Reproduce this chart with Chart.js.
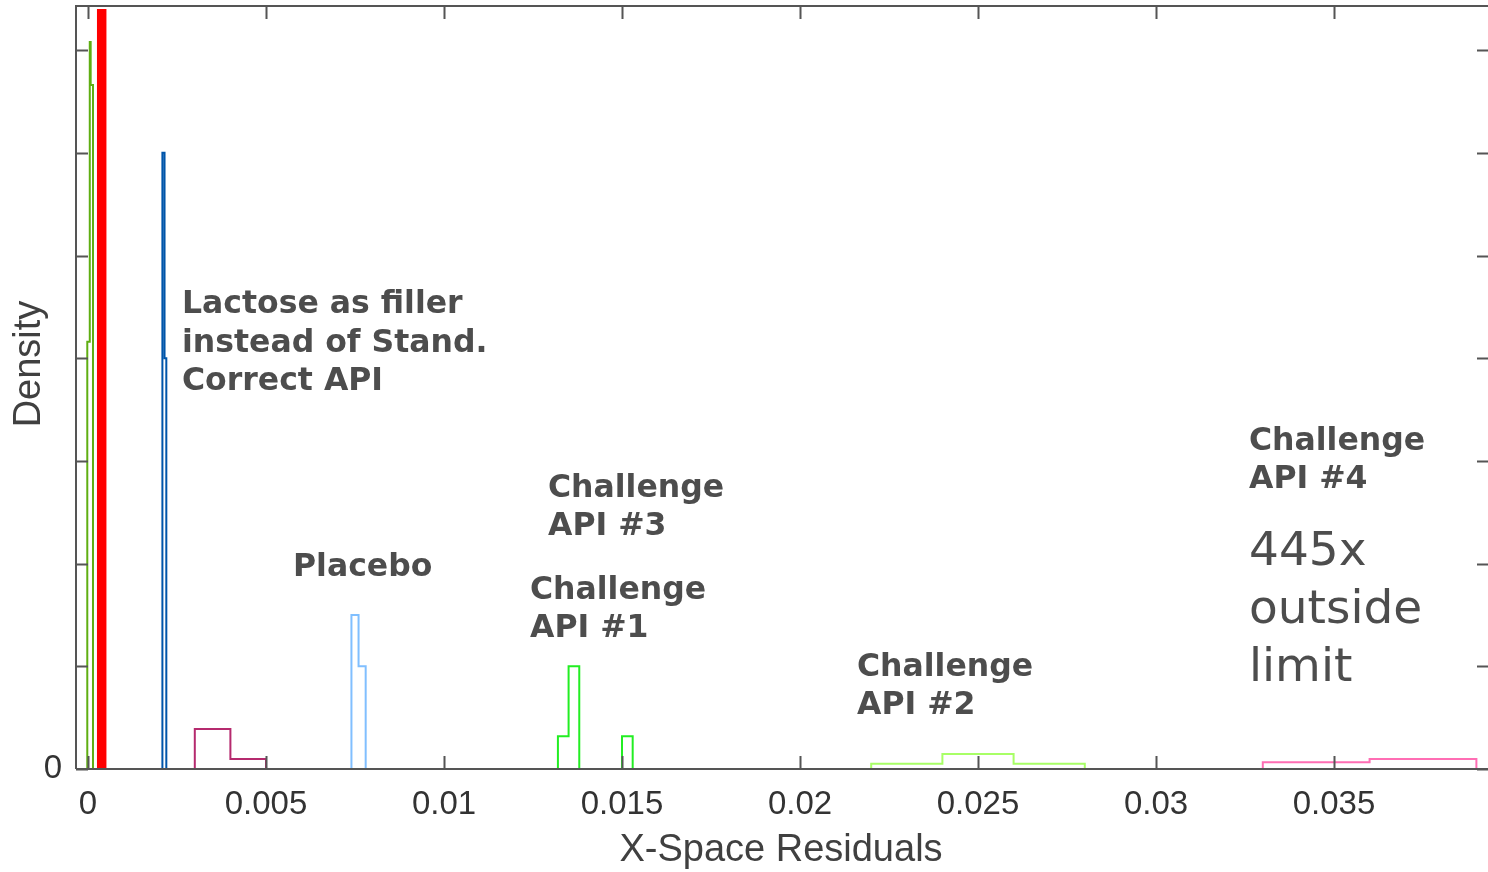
<!DOCTYPE html>
<html>
<head>
<meta charset="utf-8">
<script src="https://cdn.jsdelivr.net/npm/chart.js@4"></script>
<style>
body{margin:0;background:#fff;}
#wrap{width:1488px;height:872px;}
</style>
</head>
<body>
<div id="wrap"><canvas id="histC"></canvas></div>
<script>
// x tick values / labels
const xTickVals=[0,0.005,0.01,0.015,0.02,0.025,0.03,0.035];
const xTickLabels=["0","0.005","0.01","0.015","0.02","0.025","0.03","0.035"];
const yTickVals=[0,1,2,3,4,5,6,7];

// histogram bins (edges) and densities
const nearZeroEdges=[-0.00002,0.00005,0.000075,0.00014];
const nearZeroCounts=[4.16,7.08,6.66];
const redEdges=[0.00028,0.00049];
const redCounts=[7.39];
const lactoseEdges=[0.00209,0.00215,0.0022];
const lactoseCounts=[6.0,4.0];
const otherEdges=[0.003,0.004,0.005];
const otherCounts=[0.39,0.097];
const placeboEdges=[0.0074,0.0076,0.0078];
const placeboCounts=[1.5,1.0];
const api1Edges=[0.0132,0.0135,0.0138,0.0141,0.0144,0.0147,0.015,0.0153];
const api1Counts=[0.32,1.0,0,0,0,0,0.32];
const api2Edges=[0.022,0.024,0.026,0.028];
const api2Counts=[0.052,0.146,0.052];
const api4Edges=[0.033,0.036,0.039];
const api4Counts=[0.065,0.097];

const xMin=-0.000337, xMax=0.039326, yMax=7.43;

function stairs(edges,counts){
    const pts=[{x:edges[0],y:0}];
    for(let i=0;i<counts.length;i++){
        pts.push({x:edges[i],y:counts[i]});
        pts.push({x:edges[i+1],y:counts[i]});
    }
    pts.push({x:edges[edges.length-1],y:0});
    return pts;
}

function hist(data,color,extra){
    return Object.assign({
        data:data,
        borderColor:color,
        backgroundColor:color,
        borderWidth:2,
        showLine:true,
        pointRadius:0,
        tension:0,
        fill:false
    },extra||{});
}

const notes=[
    {lines:["Lactose as filler","instead of Stand.","Correct API"],x:182,y:305,size:31.5,bold:true,lh:38.5},
    {lines:["Placebo"],x:293,y:568,size:31.5,bold:true,lh:38},
    {lines:["Challenge","API #3"],x:548,y:489,size:31.5,bold:true,lh:38},
    {lines:["Challenge","API #1"],x:530,y:591,size:31.5,bold:true,lh:38},
    {lines:["Challenge","API #2"],x:857,y:668,size:31.5,bold:true,lh:38},
    {lines:["Challenge","API #4"],x:1249,y:442,size:31.5,bold:true,lh:38},
    {lines:["445x","outside","limit"],x:1249,y:553,size:47,bold:false,lh:58}
];

const framePlugin={
    id:"frame",
    afterDatasetsDraw(chart){
        const c=chart.ctx, a=chart.chartArea, sx=chart.scales.x, sy=chart.scales.y;
        c.save();
        c.strokeStyle="#555";
        c.lineWidth=2;
        c.beginPath();
        c.moveTo(a.left,a.bottom);c.lineTo(a.left,a.top);c.lineTo(a.right,a.top);
        c.moveTo(a.left,a.bottom);c.lineTo(a.right,a.bottom);
        for(const v of xTickVals){
            const px=Math.round(sx.getPixelForValue(v))+0.5;
            c.moveTo(px,a.bottom);c.lineTo(px,a.bottom-13);
            c.moveTo(px,a.top);c.lineTo(px,a.top+13);
        }
        for(const v of yTickVals){
            const py=Math.round(sy.getPixelForValue(v))+0.5;
            c.moveTo(a.left,py);c.lineTo(a.left+12,py);
            c.moveTo(a.right,py);c.lineTo(a.right-11,py);
        }
        c.stroke();

        // axis titles
        c.fillStyle="#404040";
        c.font="38px 'Liberation Sans', Arial, sans-serif";
        c.textAlign="center";c.textBaseline="middle";
        c.fillText("X-Space Residuals",781,851);
        c.translate(30,364);c.rotate(-Math.PI/2);
        c.fillText("Density",0,0);
        c.setTransform(1,0,0,1,0,0);

        // annotations
        c.fillStyle="#4d4d4d";
        c.textAlign="left";
        for(const n of notes){
            c.font=(n.bold?"bold ":"")+n.size+"px 'DejaVu Sans', Verdana, sans-serif";
            n.lines.forEach((t,i)=>c.fillText(t,n.x,n.y+i*n.lh));
        }
        c.restore();
    }
};

new Chart(document.getElementById("histC"),{
    type:"scatter",
    data:{
        datasets:[
            hist(stairs(otherEdges,otherCounts),"#b52a6e"),
            hist(stairs(placeboEdges,placeboCounts),"#80bfff"),
            hist(stairs(api1Edges,api1Counts),"#22ee22"),
            hist(stairs(api2Edges,api2Counts),"#a8ff66"),
            hist(stairs(api4Edges,api4Counts),"#ff6eb4"),
            hist(stairs(lactoseEdges,lactoseCounts),"#0055aa"),
            hist(stairs(nearZeroEdges,nearZeroCounts),"#5fae12"),
            hist(stairs(redEdges,redCounts),"#ff0000",{fill:"origin"})
        ]
    },
    options:{
        responsive:true,
        maintainAspectRatio:false,
        animation:false,
        layout:{padding:{top:6,right:0,left:0,bottom:0}},
        plugins:{legend:{display:false},tooltip:{enabled:false}},
        scales:{
            x:{
                type:"linear",
                min:xMin,max:xMax,
                afterBuildTicks:(s)=>{s.ticks=xTickVals.map(v=>({value:v}));},
                afterFit:(s)=>{s.height=103;s.paddingLeft=0;s.paddingRight=0;},
                grid:{display:false,drawTicks:false},
                border:{display:false},
                ticks:{
                    padding:16,
                    maxRotation:0,
                    autoSkip:false,
                    color:"#333",
                    font:{family:"'Liberation Sans', Arial, sans-serif",size:33},
                    callback:(v)=>{const i=xTickVals.indexOf(v);return i<0?"":xTickLabels[i];}
                }
            },
            y:{
                min:0,max:yMax,
                // only the 0 tick carries a label; the other tick marks are drawn by the frame plugin
                afterBuildTicks:(s)=>{s.ticks=[{value:0}];},
                afterFit:(s)=>{s.width=76;s.paddingTop=0;s.paddingBottom=0;},
                grid:{display:false,drawTicks:false},
                border:{display:false},
                ticks:{
                    padding:14,
                    color:"#333",
                    font:{family:"'Liberation Sans', Arial, sans-serif",size:33},
                    callback:(v)=>v===0?"0":""
                }
            }
        }
    },
    plugins:[framePlugin]
});
</script>
</body>
</html>
